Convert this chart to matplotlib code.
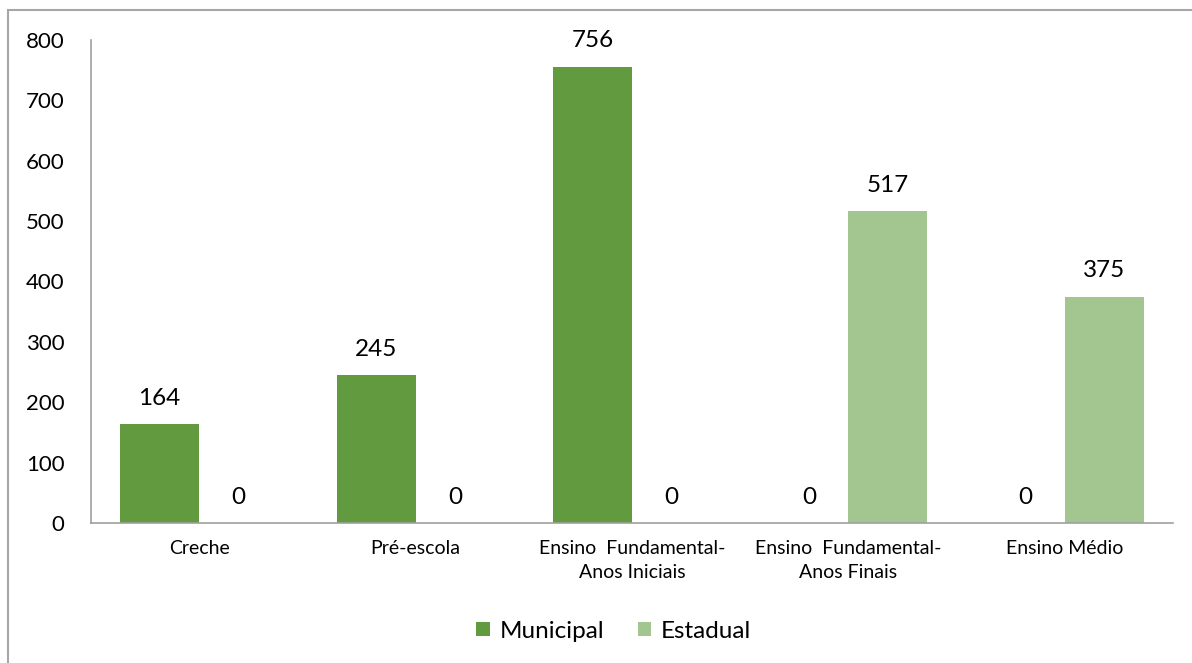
import numpy as np
import matplotlib.pyplot as plt
from matplotlib.patches import Rectangle

categorias = ["Creche", "Pré-escola", "Ensino  Fundamental-\nAnos Iniciais",
              "Ensino  Fundamental-\nAnos Finais", "Ensino Médio"]
municipal = [164, 245, 756, 0, 0]
estadual = [0, 0, 0, 517, 375]
yticks = [0, 100, 200, 300, 400, 500, 600, 700, 800]

cor_mun = "#629b3f"
cor_est = "#a3c590"

plt.rcParams['font.family'] = ['Lato', 'DejaVu Sans']

fig = plt.figure(figsize=(11.92, 6.63), dpi=100)
ax = fig.add_axes([0.0763, 0.2112, 0.9077, 0.7285])

x = np.arange(len(categorias))
w = 0.365
b1 = ax.bar(x - w / 2, municipal, w, color=cor_mun, label="Municipal")
b2 = ax.bar(x + w / 2, estadual, w, color=cor_est, label="Estadual")

for bars, vals in ((b1, municipal), (b2, estadual)):
    for r, v in zip(bars, vals):
        ax.annotate(str(v), (r.get_x() + r.get_width() / 2, v),
                    xytext=(0, 11), textcoords="offset points",
                    ha="center", va="bottom", fontsize=17.5, color="black")

ax.set_xlim(-0.5, len(categorias) - 0.5)
ax.set_ylim(0, 800)
ax.set_yticks(yticks)
ax.set_yticklabels([str(t) for t in yticks], fontsize=16)
ax.set_xticks(x)
ax.set_xticklabels(categorias, fontsize=14, linespacing=1.55)
ax.tick_params(axis="both", length=0)
ax.tick_params(axis="y", pad=19)
ax.tick_params(axis="x", pad=12)

for s in ("top", "right"):
    ax.spines[s].set_visible(False)
for s in ("left", "bottom"):
    ax.spines[s].set_color("#a0a0a0")
    ax.spines[s].set_linewidth(1.2)

fig.legend(handles=[b1, b2], loc="center", bbox_to_anchor=(0.515, 0.048),
           ncol=2, frameon=False, fontsize=17.5, handlelength=0.55,
           handleheight=0.55, handletextpad=0.4, columnspacing=1.4)

# moldura do gráfico
fig.patches.append(Rectangle((8 / 1192, -0.1), 1.2, 1 - 10 / 663 + 0.1,
                             transform=fig.transFigure, fill=False,
                             edgecolor="#a6a6a6", linewidth=1.5))

fig.savefig("out.png", dpi=100)
